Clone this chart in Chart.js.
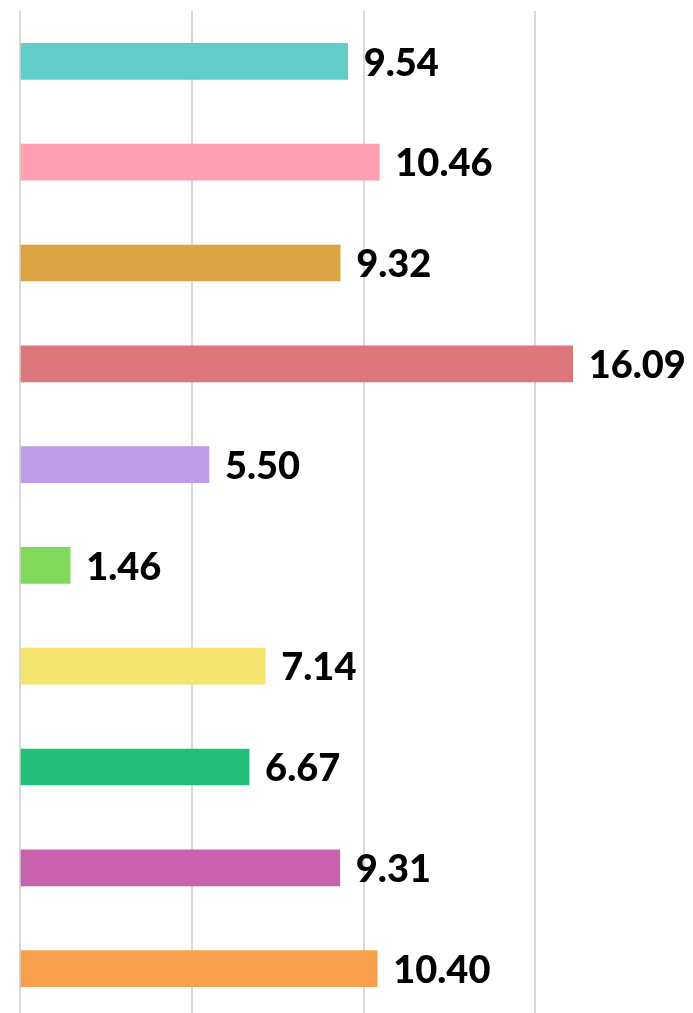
<!DOCTYPE html>
<html>
<head>
<meta charset="utf-8">
<script src="https://cdn.jsdelivr.net/npm/chart.js@4"></script>
<style>
  html, body { margin: 0; padding: 0; background: #fff; overflow: hidden; }
  .wrap { width: 707px; height: 1019px; }
</style>
</head>
<body>
<div class="wrap"><canvas id="myChart"></canvas></div>
<script>
const categories = ["1", "2", "3", "4", "5", "6", "7", "8", "9", "10"];
const values = [9.54, 10.46, 9.32, 16.09, 5.50, 1.46, 7.14, 6.67, 9.31, 10.40];
const barColors = ["#62cdcb", "#ff9eae", "#d9a441", "#dc767a", "#bc9de6",
                   "#80d95a", "#f5e36f", "#23bd7a", "#c962ae", "#f79f4b"];

// value labels just past the end of each bar
const valueLabels = {
  id: "valueLabels",
  afterDatasetsDraw(chart) {
    const ctx = chart.ctx;
    const meta = chart.getDatasetMeta(0);
    ctx.save();
    ctx.font = "900 38px Lato";
    ctx.fillStyle = "#000";
    ctx.textAlign = "left";
    ctx.textBaseline = "middle";
    meta.data.forEach((bar, i) => {
      ctx.fillText(values[i].toFixed(2), bar.x + 16, bar.y + 2);
    });
    ctx.restore();
  }
};

const ctx = document.querySelector("#myChart").getContext("2d");
let barChart = new Chart(ctx, {
  type: "bar",
  data: {
    labels: categories,
    datasets: [{
      data: values,
      backgroundColor: barColors,
      barThickness: 36
    }]
  },
  options: {
    indexAxis: "y",
    responsive: true,
    maintainAspectRatio: false,
    animation: false,
    layout: { padding: { left: 20, top: 11, right: 0, bottom: 0 } },
    plugins: { legend: { display: false }, tooltip: { enabled: false } },
    scales: {
      x: {
        min: 0,
        max: 20,
        ticks: { display: false, stepSize: 5 },
        grid: { color: "#d9d9d9", lineWidth: 2, drawTicks: false },
        border: { display: false }
      },
      y: {
        display: false,
        grid: { display: false }
      }
    }
  },
  plugins: [valueLabels]
});
</script>
</body>
</html>
